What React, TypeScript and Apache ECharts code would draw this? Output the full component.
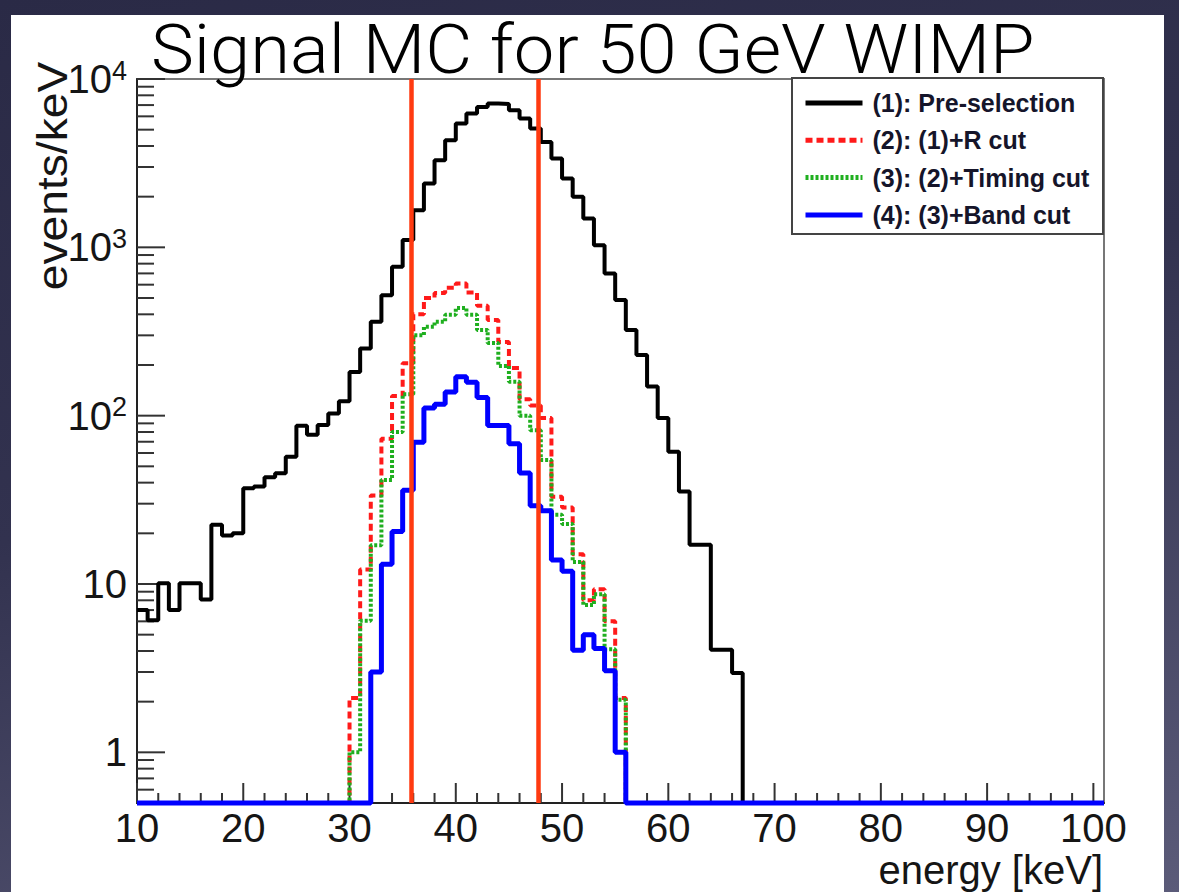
import React, { useEffect, useRef } from 'react';
import * as echarts from 'echarts';

// ---------- data ----------
const XMIN = 10;
const XMAX = 101;
const YMIN = 0.5;
const YMAX = 10000;

// bin contents (1 keV bins); each array starts at the given left bin edge
const preSelStart = 10;
const preSelection = [
  7.0, 6.1, 10.1, 7.0, 10.1, 10.1, 8.1, 22.5, 19.4, 20,
  37, 38, 43, 45.5, 57, 87, 77, 88, 103, 122,
  182, 251, 361, 520, 766, 1104, 1663, 2393, 3290, 4325,
  5435, 6233, 6828, 7148, 7100, 6520, 5820, 5080, 4230, 3370,
  2567, 1995, 1484, 1030, 700, 486, 323, 229, 149, 97,
  61, 35.4, 17.1, 17.1, 4.07, 4.07, 2.96,
];
const rCutStart = 30;
const rCut = [
  2.1, 12.2, 33.6, 73, 131, 205, 400, 500, 535, 575,
  610, 540, 450, 370, 274, 192, 125, 115, 97, 33,
  28.5, 15, 8, 9.3, 6, 2.1,
];
const timingCutStart = 30;
const timingCut = [
  1.0, 6.05, 17, 41.5, 80, 134, 300, 337, 361, 397,
  436, 397, 323, 270, 197, 159, 100, 82, 54.6, 25.8,
  22.7, 13.5, 7.5, 8.7, 4.1, 2.05,
];
const bandCutStart = 32;
const bandCut = [
  3.0, 13.1, 20.5, 36, 69.6, 111, 117, 138, 170, 158,
  128, 87.3, 87.3, 68, 45.6, 29.2, 27.2, 13.9, 11.9, 4.04,
  5.0, 4.14, 3.05, 1.0,
];

const seriesNames = [
  '(1): Pre-selection',
  '(2): (1)+R cut',
  '(3): (2)+Timing cut',
  '(4): (3)+Band cut',
];

const titleText = 'Signal MC for 50 GeV WIMP';
const cutEdges = [35.8, 47.8];

const xMajorTicks = [10, 20, 30, 40, 50, 60, 70, 80, 90, 100];
const xMinorTicks = [
  12, 14, 16, 18, 22, 24, 26, 28, 32, 34, 36, 38, 42, 44, 46, 48,
  52, 54, 56, 58, 62, 64, 66, 68, 72, 74, 76, 78, 82, 84, 86, 88,
  92, 94, 96, 98,
];
const yMajorTicks = [1, 10, 100, 1000, 10000];
const yMinorTicks = [
  0.6, 0.7, 0.8, 0.9,
  2, 3, 4, 5, 6, 7, 8, 9,
  20, 30, 40, 50, 60, 70, 80, 90,
  200, 300, 400, 500, 600, 700, 800, 900,
  2000, 3000, 4000, 5000, 6000, 7000, 8000, 9000,
];

// ---------- helpers ----------
function histPoints(start: number, vals: number[]) {
  const pts: number[][] = [];
  if (start > XMIN) pts.push([XMIN, YMIN]);
  vals.forEach((v, i) => pts.push([start + i, v > 0 ? v : YMIN]));
  const end = start + vals.length;
  pts.push([end, YMIN]);
  if (end < XMAX) pts.push([XMAX, YMIN]);
  return pts;
}

const FONT = '"Liberation Sans", Arial, Helvetica, sans-serif';
const TXT = '#151515';

function tickSeries(data: number[][], dir: 'x' | 'y', len: number) {
  return {
    type: 'custom',
    coordinateSystem: 'cartesian2d',
    silent: true,
    z: 3,
    data,
    renderItem: (_p: any, api: any) => {
      const p = api.coord([api.value(0), api.value(1)]);
      const shape =
        dir === 'y'
          ? { x1: p[0], y1: p[1], x2: p[0] + len, y2: p[1] }
          : { x1: p[0], y1: p[1], x2: p[0], y2: p[1] - len };
      return { type: 'line', shape, style: { stroke: '#333', lineWidth: 2 } };
    },
  };
}

export default function App() {
  const ref = useRef<HTMLDivElement>(null);

  useEffect(() => {
    document.body.style.margin = '0';
    if (!ref.current) return;
    const chart = echarts.init(ref.current, undefined, { renderer: 'svg' });

    const lineBase = {
      type: 'line',
      step: 'end',
      showSymbol: false,
      symbol: 'none',
      clip: false,
      silent: true,
    };

    const option: any = {
      animation: false,
      backgroundColor: 'transparent',
      grid: {
        left: 137,
        top: 79,
        right: 75,
        bottom: 89,
        show: true,
        borderColor: '#777',
        borderWidth: 2,
        backgroundColor: 'transparent',
      },
      legend: {
        orient: 'vertical',
        left: 803,
        top: 90,
        padding: 0,
        itemWidth: 57,
        itemHeight: 14,
        itemGap: 11.3,
        selectedMode: false,
        data: seriesNames,
        itemStyle: { opacity: 0, borderWidth: 0 },
        lineStyle: { width: 5 },
        textStyle: {
          fontFamily: FONT,
          fontWeight: 'bold',
          fontSize: 25,
          lineHeight: 26,
          color: '#15152a',
          padding: [0, 0, 0, 5],
        },
      },
      xAxis: {
        type: 'value',
        min: XMIN,
        max: XMAX,
        interval: 10,
        axisLine: { show: true, lineStyle: { color: '#222', width: 2 } },
        axisTick: { show: false },
        minorTick: { show: false },
        splitLine: { show: false },
        axisLabel: {
          margin: 10,
          lineHeight: 30,
          fontFamily: FONT,
          fontSize: 40,
          color: TXT,
          formatter: (v: number) => (v % 10 === 0 ? String(v) : ''),
        },
      },
      yAxis: {
        type: 'log',
        logBase: 10,
        min: YMIN,
        max: YMAX,
        axisLine: { show: true, lineStyle: { color: '#222', width: 2 } },
        axisTick: { show: false },
        minorTick: { show: false },
        splitLine: { show: false },
        axisLabel: {
          margin: 10,
          fontFamily: FONT,
          fontSize: 40,
          color: TXT,
          formatter: (v: number) => {
            const e = Math.round(Math.log10(v));
            if (Math.abs(v - Math.pow(10, e)) > 1e-6 * v) return '';
            if (e === 0) return '1';
            if (e === 1) return '10';
            return '{b|10}{s|' + e + '}';
          },
          rich: {
            b: { fontFamily: FONT, fontSize: 40, lineHeight: 44, color: TXT },
            s: { fontFamily: FONT, fontSize: 27, lineHeight: 27, verticalAlign: 'top', color: TXT },
          },
        },
      },
      graphic: [
        {
          type: 'rect',
          shape: { x: 792, y: 78, width: 311, height: 156 },
          style: { fill: '#fff', stroke: '#444', lineWidth: 2 },
          z: 1,
          silent: true,
        },
        {
          type: 'text',
          x: 151,
          y: 50,
          scaleX: 1.064,
          silent: true,
          style: {
            text: titleText,
            fontFamily: 'Roboto, "Noto Sans", sans-serif',
            fontWeight: 300,
            fontSize: 68,
            lineHeight: 60,
            fill: '#000',
            textAlign: 'left',
            textVerticalAlign: 'middle',
          },
        },
        {
          type: 'text',
          x: 52,
          y: 176,
          rotation: Math.PI / 2,
          scaleX: 1.1,
          silent: true,
          style: {
            text: 'events/keV',
            fontFamily: FONT,
            fontSize: 42,
            lineHeight: 34,
            fill: TXT,
            textAlign: 'center',
            textVerticalAlign: 'middle',
          },
        },
        {
          type: 'text',
          x: 1103,
          y: 870,
          silent: true,
          style: {
            text: 'energy [keV]',
            fontFamily: FONT,
            fontSize: 40,
            lineHeight: 32,
            fill: TXT,
            textAlign: 'right',
            textVerticalAlign: 'middle',
          },
        },
      ],
      series: [
        {
          ...lineBase,
          name: seriesNames[0],
          data: histPoints(preSelStart, preSelection),
          lineStyle: { color: '#000', width: 4 },
          itemStyle: { color: '#000' },
        },
        {
          ...lineBase,
          name: seriesNames[1],
          data: histPoints(rCutStart, rCut),
          lineStyle: { color: '#ff1a1a', width: 4, type: [7, 4] },
          itemStyle: { color: '#ff1a1a' },
        },
        {
          ...lineBase,
          name: seriesNames[2],
          data: histPoints(timingCutStart, timingCut),
          lineStyle: { color: '#1faf1f', width: 4, type: [3, 2] },
          itemStyle: { color: '#1faf1f' },
        },
        {
          ...lineBase,
          name: seriesNames[3],
          data: histPoints(bandCutStart, bandCut),
          lineStyle: { color: '#0000ff', width: 5 },
          itemStyle: { color: '#0000ff' },
          markLine: {
            silent: true,
            symbol: ['none', 'none'],
            label: { show: false },
            lineStyle: { color: '#ff3a10', width: 4.5, type: 'solid' },
            data: cutEdges.map((x) => ({ xAxis: x })),
          },
        },
        tickSeries(yMajorTicks.map((v) => [XMIN, v]), 'y', 28),
        tickSeries(yMinorTicks.map((v) => [XMIN, v]), 'y', 17),
        tickSeries(xMajorTicks.map((v) => [v, YMIN]), 'x', 20),
        tickSeries(xMinorTicks.map((v) => [v, YMIN]), 'x', 10),
      ],
    };

    chart.setOption(option);
    return () => chart.dispose();
  }, []);

  return (
    <div
      style={{
        position: 'fixed',
        left: 0,
        top: 0,
        width: 1179,
        height: 892,
        background: 'linear-gradient(165deg, #2a2a46 0%, #32324f 45%, #5b5b79 100%)',
        overflow: 'hidden',
      }}
    >
      <div
        style={{
          position: 'absolute',
          left: 11,
          top: 15,
          width: 1153,
          height: 877,
          background: '#fff',
        }}
      />
      <div ref={ref} style={{ position: 'absolute', left: 0, top: 0, width: 1179, height: 892 }} />
    </div>
  );
}
